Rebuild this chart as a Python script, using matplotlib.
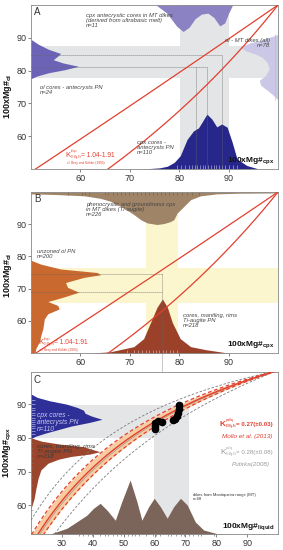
import numpy as np
import matplotlib.pyplot as plt

plt.rcParams['font.family'] = ['Liberation Sans', 'DejaVu Sans']
plt.rcParams['mathtext.default'] = 'regular'

# ---------------- panel A : cpx antecrysts vs olivine ----------------
a_kd = [1.04, 1.91]

a_top_x = [75.3, 77.5, 79.5, 80.8, 82.0, 83.2, 84.5, 85.8, 87.0, 88.2, 89.2, 90.0, 90.8]
a_top_depth = [0, 2.5, 6.5, 8.1, 6.8, 4.2, 2.8, 2.5, 3.8, 6.4, 5.5, 2.5, 0]
a_top_rug = [78.2, 79.8, 81.3, 82.6, 83.9, 85.9, 87.2, 89.4]

a_left_y = [89.5, 88, 86.5, 85.2, 84.5, 83.3, 82.3, 81.3, 80.3, 79.3, 78.3, 77.5]
a_left_w = [0, 1.5, 3.5, 6, 5.5, 4.5, 6.5, 9.6, 7, 3.5, 1.2, 0]

a_right_y = [91, 89.5, 88.5, 87.2, 86, 85, 84, 82.5, 80.5, 78.5, 77, 75.5, 74, 72.5, 71]
a_right_w = [0, 3, 5.5, 7.7, 6.5, 4.5, 3.2, 2.2, 1.8, 2.5, 3.8, 3.5, 2.2, 1, 0]

a_bot_x = [73, 76, 77.6, 79, 80.2, 81.6, 82.9, 83.9, 84.6, 85.6, 86.6, 87.6, 88.6, 89.7, 90.7, 91.7, 93.7, 96]
a_bot_h = [50, 50.3, 50.8, 52, 54, 59, 61.6, 62.5, 64.2, 66.7, 65.2, 62.8, 63.7, 62.7, 58.2, 53, 51, 50]
a_bot_rug = [79.5, 80.4, 81.2, 81.9, 82.5, 83.1, 83.6, 84.2, 84.8, 85.3, 85.9, 86.4,
             87.0, 87.5, 88.1, 88.7, 89.3, 90.0, 90.8, 91.6]

a_band_x = [80.2, 90.0]
a_band_y = [77.8, 87.5]
a_ol_peaks = [84.8, 81.0]
a_cpx_peaks = [83.3, 85.6, 88.6]

# ---------------- panel B : Ti-augite vs unzoned olivine ----------------
b_top_x = [50, 55, 60.8, 64.1, 66.1, 68.8, 70.8, 72.2, 73.5, 75.5, 76.9, 78.2, 78.9, 79.6, 80.6, 82.3, 84.3, 87.6, 92, 100]
b_top_depth = [0.6, 0.8, 1.2, 2, 2.9, 5, 7, 8.6, 9.6, 10.1, 9.8, 9.2, 8.6, 6.5, 5, 2.4, 1.2, 0.6, 0.4, 0.3]
b_top_rug = [57.5, 60.3, 61.0, 61.7, 65.0, 65.6, 66.6, 67.5, 68.3, 69.1, 69.9, 70.7, 71.5, 72.3,
             73.1, 73.9, 74.7, 75.5, 76.3, 77.1, 77.9, 78.7, 79.5, 80.5, 81.6, 82.6, 84.1]

b_left_y = [78.8, 77.6, 76.1, 75, 74.3, 73.5, 71.9, 70.4, 68.9, 67.3, 66, 64.8, 63.7, 62.2, 60.6, 57.6, 55.5, 53.5, 51.5, 50]
b_left_w = [0, 2, 6, 13.4, 14.1, 10.7, 7, 7.4, 9.7, 6.4, 3.4, 5.4, 5.7, 3.4, 2.7, 2.4, 2, 1.7, 1, 0.8]

b_bot_x = [62, 66, 70.8, 72.8, 74.5, 75.5, 76.6, 77.6, 78.6, 80.2, 82.3, 85.6, 90]
b_bot_h = [50, 50.4, 52, 54.5, 60.6, 64.2, 66.8, 64.2, 59.5, 54.5, 52, 51, 50]
b_bot_rug = [69.5, 70.8, 71.6, 72.4, 73.2, 73.9, 74.6, 75.3, 76.0, 76.7, 77.4, 78.1, 78.8, 79.6]

b_band_x = [73.2, 79.8]
b_band_y = [65.5, 76.5]
b_ol_peaks = [74.4, 68.9]
b_cpx_peak = 76.6

# ---------------- panel C : cpx vs liquid ----------------
c_kd_mollo = [0.24, 0.27, 0.30]
c_kd_putirka = [0.20, 0.28, 0.36]

c_blue_y = [93, 92, 91, 90, 89, 88.2, 87.3, 86.5, 85.5, 84.6, 83.5, 82.5, 81.5, 80.5, 79.8]
c_blue_w = [0, 2, 6, 11.5, 15, 17, 17.5, 19.5, 23, 19, 13, 9, 5, 1.5, 0]
c_blue_rug = [81.2, 82.0, 82.8, 83.5, 84.1, 84.8, 85.4, 86.0, 86.7, 87.4, 88.2, 89.0, 90.0, 91.2]

c_brown_y = [80, 79, 78.2, 77.4, 76.4, 75.9, 75.2, 74.5, 73.7, 72.5, 70.5, 68, 65, 62, 59]
c_brown_w = [0, 3.5, 9, 17, 20.5, 22.3, 19, 13, 9, 5.5, 3.2, 2.3, 1.6, 1, 0]
c_brown_rug = [58.5, 61.0, 63.5, 66.0, 68.5, 71.0, 72.5, 74.0, 75.5, 77.0, 78.5]

c_bot_x = [26.2, 31.6, 34.8, 38.1, 40.2, 42.4, 44.6, 47.3, 49.4, 52.1, 54.3, 55.9, 58.1, 59.9,
           61.9, 64.1, 66.2, 68.4, 70.6, 73.2, 75.9, 80.3, 86]
c_bot_h = [51.5, 53.2, 55.1, 57.1, 59.1, 60.6, 58.6, 55.6, 61.1, 67.5, 61.1, 55.6, 59.6, 62.1,
           59.6, 56.2, 59.6, 62.1, 60.1, 55.1, 52.7, 51.6, 51.5]
c_bot_rug = [35.5, 37, 38.3, 39.6, 42.3, 44, 45, 46.4, 47.8, 49, 50.1, 51.5, 52.6, 53.7, 55,
             57.1, 59.5, 60.6, 61.9, 64.4, 65.4, 66.8, 68.6, 69.7, 71.1, 72.4, 74, 75, 79.4]

c_pts_liq = [60.0, 60.0, 60.3, 61.2, 62.3, 66.0, 66.6, 67.4, 67.6, 67.8, 68.0]
c_pts_cpx = [82.6, 83.6, 84.5, 85.0, 84.8, 85.4, 85.6, 86.5, 87.5, 88.6, 89.6]

c_band_x = [59.7, 71.3]
c_band_y = [80.0, 89.7]

RED = '#e2402f'
GRAY_BAND = '#e4e5e7'
TXT = '#444444'


def kd_line(kd, mg):
    # equilibrium Mg# of the second phase for a given Fe-Mg exchange coefficient
    return 100.0 / (1.0 + kd * (100.0 / mg - 1.0))


def kd_label(ax, x, y, sup, sub, rest, color, kf, sf, rf, gap, weight='normal'):
    # "K" with tiny stacked super/subscript, then the value text
    ax.text(x, y, 'K', fontsize=kf, color=color, fontweight=weight, zorder=6)
    kw_ = kf * 0.68
    ax.annotate(sup, (x, y), xytext=(kw_, kf * 0.62), textcoords='offset points',
                fontsize=sf, color=color, fontweight=weight, zorder=6)
    ax.annotate(sub, (x, y), xytext=(kw_, -sf * 0.35), textcoords='offset points',
                fontsize=sf, color=color, fontweight=weight, zorder=6)
    ax.annotate(rest, (x, y), xytext=(kw_ + gap, 0), textcoords='offset points',
                fontsize=rf, color=color, fontweight=weight, zorder=6)


def style_axes(ax, xlim, ylim, xticks, yticks):
    ax.set_xlim(*xlim)
    ax.set_ylim(*ylim)
    ax.set_xticks(xticks)
    ax.set_yticks(yticks)
    ax.tick_params(direction='out', length=2, width=0.5, pad=1.5, labelsize=6.5,
                   colors='#555555', labelcolor='#333333')
    for sp in ax.spines.values():
        sp.set_color('#888888')
        sp.set_linewidth(0.6)


def dotted(ax, xs, ys):
    ax.plot(xs, ys, color='#666666', lw=0.6, ls=(0, (1, 1.4)), zorder=3)


fig = plt.figure(figsize=(2.83, 5.50), dpi=100)
axA = fig.add_axes([0.1095, 0.693, 0.873, 0.298])
axB = fig.add_axes([0.1095, 0.358, 0.873, 0.293])
axC = fig.add_axes([0.1095, 0.029, 0.873, 0.2945])

# ---------- A ----------
ax = axA
style_axes(ax, (50, 100), (50, 100), [60, 70, 80, 90], [60, 70, 80, 90])
ax.axvspan(a_band_x[0], a_band_x[1], color=GRAY_BAND, lw=0, zorder=0)
ax.axhspan(a_band_y[0], a_band_y[1], color=GRAY_BAND, lw=0, zorder=0)
ax.fill_between(a_top_x, 100 - np.array(a_top_depth), 100, color='#8a82c2', lw=0, zorder=1)
ax.vlines(a_top_rug, 98.6, 100, color='#8a82c2', lw=0.5, zorder=1)
ax.fill_betweenx(a_left_y, 50, 50 + np.array(a_left_w), color='#6c63b6', lw=0, zorder=1)
ax.fill_betweenx(a_right_y, 100 - np.array(a_right_w), 100, color='#cbc7e6', lw=0, zorder=1)
ax.vlines(99.3, 71, 91, color='#b3aed8', lw=0.5, ls=(0, (2, 1)), zorder=1)
ax.fill_between(a_bot_x, 50, a_bot_h, color='#27278b', lw=0, zorder=1)
ax.vlines(a_bot_rug, 50, 51.2, color='#c9c9ee', lw=0.4, zorder=2)
dotted(ax, [50, a_cpx_peaks[2], a_cpx_peaks[2]], [a_ol_peaks[0], a_ol_peaks[0], 50])
dotted(ax, [50, a_cpx_peaks[1], a_cpx_peaks[1]], [a_ol_peaks[1], a_ol_peaks[1], 50])
dotted(ax, [a_cpx_peaks[0], a_cpx_peaks[0]], [a_ol_peaks[1], 50])
mg = np.linspace(40, 100, 200)
for kd in a_kd:
    ax.plot(mg, kd_line(kd, mg), color=RED, lw=0.9, zorder=4)

kw = dict(fontsize=4.2, style='italic', color=TXT, va='top', linespacing=1.0, zorder=5)
ax.text(61.1, 97.6, 'cpx antecrystic cores in MT dikes\n(derived from ultrabasic melt)\nn=11', **kw)
ax.text(98.4, 90.0, 'ol - MT dikes (all)\nn=78', ha='right', **kw)
ax.text(51.9, 75.6, 'ol cores - antecrysts PN\nn=24', **kw)
ax.text(71.5, 58.8, 'cpx cores -\nantecrysts PN\nn=110', **kw)
ax.text(0.012, 0.985, 'A', transform=ax.transAxes, fontsize=7, color='#333333', va='top')
kd_label(ax, 57.0, 53.6, 'ol/cpx', 'D Mg-Fe', '= 1.04-1.91', RED, 5.5, 1.8, 4.8, 7.2)
ax.text(57.3, 51.4, 'cf. Brey and Köhler (1990)', fontsize=2.3, color=RED, zorder=5)
ax.text(0.985, 0.045, r'100xMg#$_{cpx}$', transform=ax.transAxes, ha='right',
        fontsize=6, fontweight='bold', color='#111111', zorder=5)

# ---------- B ----------
ax = axB
style_axes(ax, (50, 100), (50, 100), [60, 70, 80, 90], [60, 70, 80, 90])
YEL = '#fcf6cf'
ax.axvspan(b_band_x[0], b_band_x[1], color=YEL, lw=0, zorder=0)
ax.axhspan(b_band_y[0], b_band_y[1], color=YEL, lw=0, zorder=0)
ax.fill_between(b_top_x, 100 - np.array(b_top_depth), 100, color='#a08467', lw=0, zorder=1)
ax.vlines(b_top_rug, 98.9, 100, color='#7a5f45', lw=0.45, zorder=2)
ax.fill_betweenx(b_left_y, 50, 50 + np.array(b_left_w), color='#c9682f', lw=0, zorder=1)
ax.fill_between(b_bot_x, 50, b_bot_h, color='#9c4129', lw=0, zorder=1)
ax.vlines(b_bot_rug, 50, 51.0, color='#e6c2b4', lw=0.4, zorder=2)
dotted(ax, [50, b_cpx_peak], [b_ol_peaks[0], b_ol_peaks[0]])
dotted(ax, [50, b_cpx_peak], [b_ol_peaks[1], b_ol_peaks[1]])
ax.plot([b_cpx_peak, b_cpx_peak], [b_ol_peaks[0], 44.6], color='#666666', lw=0.6,
        ls=(0, (1, 1.4)), zorder=3, clip_on=False)
for kd in a_kd:
    ax.plot(mg, kd_line(kd, mg), color=RED, lw=0.9, zorder=4)

ax.text(61.1, 97.0, 'phenocrystic and groundmass cpx\nin MT dikes (Ti-augite)\nn=226', **kw)
ax.text(51.2, 82.4, 'unzoned ol PN\nn=200', **kw)
ax.text(80.8, 62.3, 'cores, mantling, rims\nTi-augite PN\nn=218', **kw)
ax.text(0.012, 0.985, 'B', transform=ax.transAxes, fontsize=7, color='#333333', va='top')
kd_label(ax, 51.5, 52.7, 'ol/cpx', 'D Mg-Fe', '= 1.04-1.91', RED, 5.5, 1.8, 4.8, 7.2)
ax.text(51.9, 50.5, 'cf. Brey and Köhler (1990)', fontsize=2.3, color=RED, zorder=5)
ax.text(0.985, 0.045, r'100xMg#$_{cpx}$', transform=ax.transAxes, ha='right',
        fontsize=6, fontweight='bold', color='#111111', zorder=5)

# ---------- C ----------
ax = axC
style_axes(ax, (20, 100), (51.5, 99.5), [30, 40, 50, 60, 70, 80, 90], [60, 70, 80, 90])
ax.set_xticks(c_bot_rug, minor=True)
ax.tick_params(which='minor', direction='out', length=1.5, width=0.4, colors='#555555')
ax.fill_between([20, c_band_x[1]], c_band_y[0], c_band_y[1], color=GRAY_BAND, lw=0, zorder=0)
ax.fill_between(c_band_x, 51.5, c_band_y[0], color=GRAY_BAND, lw=0, zorder=0)
ax.fill_between(c_bot_x, 51.5, c_bot_h, color='#7b6459', lw=0, zorder=1)
ax.fill_betweenx(c_blue_y, 20, 20 + np.array(c_blue_w), color='#2f2f98', lw=0, zorder=1)
ax.hlines(c_blue_rug, 20, 21.3, color='#d8d8f5', lw=0.4, zorder=2)
ax.fill_betweenx(c_brown_y, 20, 20 + np.array(c_brown_w), color='#9b452d', lw=0, zorder=1)
ax.hlines(c_brown_rug, 20, 20.8, color='#777777', lw=0.4, zorder=2)

liq = np.linspace(15, 100, 300)
ax.fill_between(liq, kd_line(c_kd_mollo[2], liq), kd_line(c_kd_mollo[0], liq),
                color='#f8cba0', lw=0, zorder=2)
for kd in (c_kd_putirka[0], c_kd_putirka[2]):
    ax.plot(liq, kd_line(kd, liq), color='#7a7a7a', lw=0.6, ls=(0, (3, 2)), zorder=3)
ax.plot(liq, kd_line(c_kd_putirka[1], liq), color='#8a8a8a', lw=0.4, zorder=3)
for kd in (c_kd_mollo[0], c_kd_mollo[2]):
    ax.plot(liq, kd_line(kd, liq), color=RED, lw=0.9, ls=(0, (3, 2)), zorder=3)
ax.plot(liq, kd_line(c_kd_mollo[1], liq), color=RED, lw=1.0, zorder=3)
ax.plot(c_pts_liq, c_pts_cpx, 'o', color='black', ms=4.5, mec='black', zorder=5)

ax.text(0.012, 0.985, 'C', transform=ax.transAxes, fontsize=7, color='#333333', va='top')
ax.text(22.0, 87.6, 'cpx cores -\nantecrysts PN\nn=110', fontsize=4.8, style='italic',
        color='#c9c9f2', va='top', linespacing=1.0, zorder=5)
ax.text(22.0, 78.2, 'cores, mantling, rims\nTi-augite PN\nn=218', fontsize=4.5, style='italic',
        color='#3a3a3a', va='top', linespacing=1.0, zorder=5)
ax.text(72.3, 63.8, 'dikes from Mantiqueira range (MT)\nn=68', fontsize=3.0, color='#333333',
        va='top', linespacing=1.0, zorder=5)
kd_label(ax, 81.2, 83.4, 'cpx/liq', 'D Mg-Fe', '= 0.27(±0.03)', RED, 6, 1.8, 4.4, 7.2, 'bold')
ax.text(81.9, 80.0, 'Mollo et al. (2013)', fontsize=4.6, style='italic', color=RED, zorder=5)
kd_label(ax, 81.2, 75.3, 'cpx/liq', 'D Mg-Fe', '= 0.28(±0.08)', '#9a9a9a', 6, 1.8, 4.4, 7.2)
ax.text(85.0, 71.6, 'Putirka(2008)', fontsize=4.6, style='italic', color='#9a9a9a', zorder=5)
ax.text(0.985, 0.04, r'100xMg#$_{liquid}$', transform=ax.transAxes, ha='right',
        fontsize=6, fontweight='bold', color='#111111', zorder=5)

# y labels
ylab = dict(rotation=90, ha='center', va='center', fontsize=6.5, fontweight='bold', color='#111111')
fig.text(8 / 283, 0.824, r'100xMg#$_{ol}$', **ylab)
fig.text(8 / 283, 0.50, r'100xMg#$_{ol}$', **ylab)
fig.text(8 / 283, 0.178, r'100xMg#$_{cpx}$', **ylab)

fig.savefig('out.png', dpi=100)
